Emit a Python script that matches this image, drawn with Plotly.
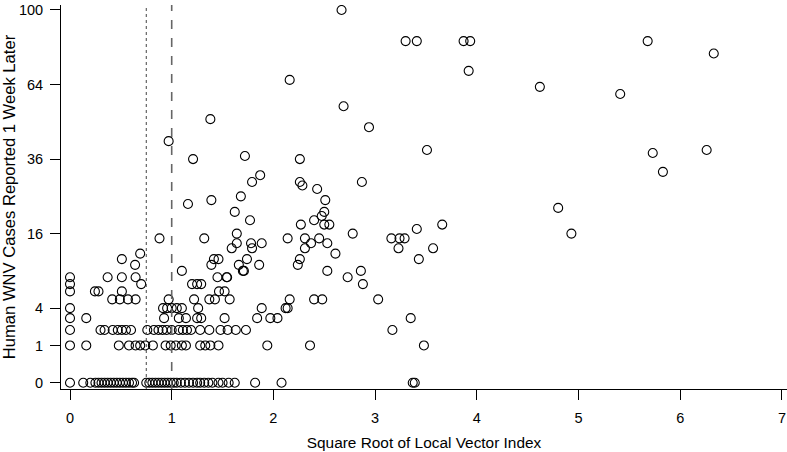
import numpy as np
import plotly.graph_objects as go

# Square root of local vector index (x) and human WNV cases one week later (y)
sqrt_vector_index = [
    # 0 cases
    0.0, 0.13, 0.20, 0.25, 0.28, 0.31, 0.34, 0.37, 0.40, 0.43, 0.46, 0.49, 0.52, 0.55, 0.58,
    0.61, 0.63, 0.75, 0.78, 0.81, 0.84, 0.87, 0.90, 0.93, 0.96, 0.99, 1.02, 1.05, 1.09, 1.13,
    1.17, 1.21, 1.25, 1.28, 1.32, 1.36, 1.40, 1.46, 1.50, 1.56, 1.62, 1.82, 2.08, 3.37, 3.39,
    # 1 case
    0.0, 0.16, 0.48, 0.58, 0.645, 0.69, 0.74, 0.815, 0.94, 0.99, 1.04, 1.10, 1.14, 1.28, 1.33,
    1.38, 1.46, 1.94, 2.36, 3.48,
    # 2 cases
    0.0, 0.30, 0.34, 0.42, 0.47, 0.51, 0.55, 0.60, 0.76, 0.825, 0.87, 0.91, 0.95, 1.0, 1.07,
    1.11, 1.15, 1.19, 1.28, 1.37, 1.48, 1.55, 1.63, 1.73, 3.17,
    # 3 cases
    0.0, 0.16, 0.925, 1.07, 1.14, 1.25, 1.29, 1.52, 1.84, 1.97, 2.04, 3.35,
    # 4 cases
    0.0, 0.915, 0.955, 1.0, 1.05, 1.10, 1.26, 1.885, 2.12, 2.14,
    # 5 cases
    0.415, 0.49, 0.57, 0.645, 0.97, 1.22, 1.37, 1.425, 1.57, 2.16, 2.40, 2.48, 3.03,
    # 6 cases
    0.0, 0.245, 0.28, 0.51, 1.465, 1.52,
    # 7 cases
    0.0, 0.70, 1.20, 1.25, 1.29, 2.88,
    # 8 cases
    0.0, 0.37, 0.51, 0.645, 1.45, 1.54, 1.545, 2.73,
    # 9 cases
    1.10, 1.70, 1.71, 2.53, 2.86,
    # 10 cases
    0.64, 1.39, 1.66, 1.86, 2.24,
    # 11 cases
    0.51, 1.415, 1.46, 1.74, 2.26, 3.43,
    # 12 cases
    0.69, 2.61,
    # 13 cases
    1.59, 1.79, 2.31, 3.23, 3.57,
    # 14 cases
    1.64, 1.78, 1.885, 2.37, 2.53,
    # 15 cases
    0.88, 1.32, 2.14, 2.31, 2.45, 3.16, 3.24, 3.29,
    # 16-25 cases
    1.64, 2.78, 4.93, 3.41, 2.27, 2.50, 2.55, 3.66, 1.77, 2.40, 2.475, 1.62, 2.50, 4.80,
    1.16, 1.39, 2.51, 1.68,
    # 27-50 cases
    2.43, 2.285, 1.79, 2.26, 2.87, 1.87, 5.83, 1.21, 2.26, 1.72, 5.73, 3.51, 6.26, 0.97,
    2.94, 1.38,
    # 55-100 cases
    2.69, 5.41, 4.62, 2.16, 3.92, 6.33, 3.30, 3.41, 3.87, 3.935, 5.68, 2.67,
]

wnv_cases = (
    [0] * 45
    + [1] * 20
    + [2] * 25
    + [3] * 12
    + [4] * 10
    + [5] * 13
    + [6] * 6
    + [7] * 6
    + [8] * 8
    + [9] * 5
    + [10] * 5
    + [11] * 6
    + [12] * 2
    + [13] * 5
    + [14] * 5
    + [15] * 8
    + [16, 16, 16, 17, 18, 18, 18, 18, 19, 19, 20, 21, 21, 22, 23, 24, 24, 25]
    + [27, 28, 29, 29, 29, 31, 32, 36, 36, 37, 38, 39, 39, 42, 47, 50]
    + [55, 60, 63, 66, 70, 78, 84, 84, 84, 84, 84, 100]
)

x_ticks = [0, 1, 2, 3, 4, 5, 6, 7]
y_tick_labels = [0, 1, 4, 16, 36, 64, 100]

# reference thresholds (vertical lines)
dotted_threshold = 0.75
dashed_threshold = 1.0

y_sqrt = np.sqrt(np.array(wnv_cases, dtype=float))

fig = go.Figure()
fig.add_trace(go.Scatter(
    x=sqrt_vector_index,
    y=y_sqrt,
    mode="markers",
    marker=dict(symbol="circle-open", size=9, color="black", line=dict(width=1.1, color="black")),
    hoverinfo="skip",
))

fig.add_vline(x=dotted_threshold, line=dict(color="#444444", width=1, dash="dot"))
fig.add_vline(x=dashed_threshold, line=dict(color="#666666", width=1.6, dash="dash"))

font_family = "Liberation Sans, Arial, sans-serif"

fig.update_layout(
    width=787,
    height=452,
    margin=dict(l=61, r=0, t=5, b=63),
    paper_bgcolor="white",
    plot_bgcolor="white",
    showlegend=False,
    font=dict(family=font_family, color="black", size=15),
    xaxis=dict(
        range=[-0.0885, 7.05],
        tickvals=x_ticks,
        ticktext=[str(v) for v in x_ticks],
        ticks="outside",
        ticklen=10,
        tickcolor="black",
        showline=True,
        linecolor="black",
        linewidth=1,
        showgrid=False,
        zeroline=False,
        automargin=False,
        ticklabeloverflow="allow",
        ticklabelstandoff=6,
        tickfont=dict(size=14.5),
        title=dict(text="Square Root of Local Vector Index", font=dict(size=15.4), standoff=11),
    ),
    yaxis=dict(
        range=[-0.169, 10.134],
        tickvals=[float(np.sqrt(v)) for v in y_tick_labels],
        ticktext=[str(v) for v in y_tick_labels],
        ticks="outside",
        ticklen=10,
        tickcolor="black",
        showline=True,
        linecolor="black",
        linewidth=1,
        showgrid=False,
        zeroline=False,
        automargin=False,
        ticklabeloverflow="allow",
        ticklabelstandoff=4,
        tickfont=dict(size=14.5),
        title=dict(text="Human WNV Cases Reported 1 Week Later", font=dict(size=16.6), standoff=6),
    ),
)

fig.write_html(
    "out.html",
    config={"displayModeBar": False},
    post_script="document.body.style.margin='0';document.body.style.padding='0';document.body.style.overflow='hidden';",
)
